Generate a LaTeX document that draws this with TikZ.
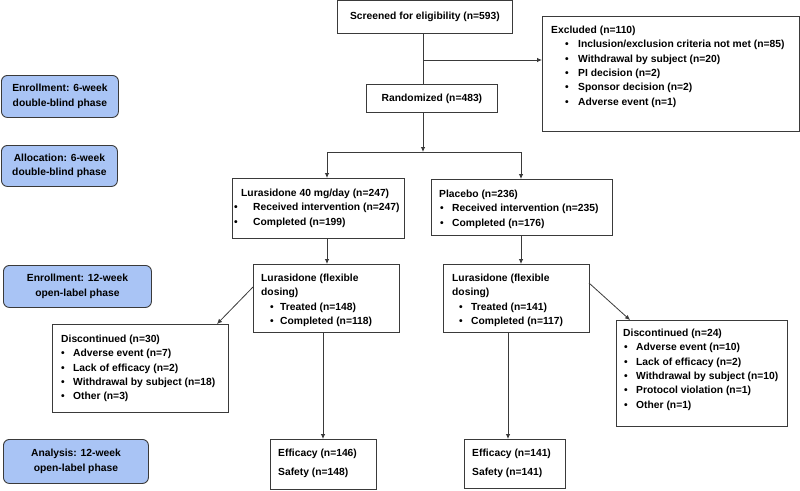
\documentclass[tikz,border=0pt]{standalone}
\usepackage{fontspec}
\setmainfont{Liberation Sans}
\usetikzlibrary{arrows.meta}
\definecolor{phase}{HTML}{A9C4F5}
\definecolor{edge}{HTML}{3A3A3A}
\newcommand{\bul}[3]{\hspace*{#1pt}\makebox[#2pt][l]{\textbullet}#3}
\tikzset{
  box/.style={draw=edge, line width=0.9pt, inner sep=0pt, anchor=north west},
  txt/.style={anchor=north west, inner sep=0pt, align=left, font=\fontsize{10.3}{14.3}\selectfont\bfseries},
  phasebox/.style={draw=edge, fill=phase, line width=0.9pt, rounded corners=6pt, inner sep=0pt, anchor=north west, align=center, font=\fontsize{10.3}{14.3}\selectfont\bfseries},
  arr/.style={draw=edge, line width=0.8pt, -{Latex[length=5pt,width=4.5pt]}},
  ln/.style={draw=edge, line width=0.8pt}
}
\begin{document}
\begin{tikzpicture}[x=1pt,y=-1pt]
\useasboundingbox (0,0) rectangle (800,490);
% phase boxes
\node[phasebox, minimum width=117pt, minimum height=42pt] (p1) at (1,75) {Enrollment: 6-week\\double-blind phase};
\node[phasebox, minimum width=116pt, minimum height=41pt] (p2) at (1,145) {Allocation: 6-week\\double-blind phase};
\node[phasebox, minimum width=148pt, minimum height=42pt] (p3) at (3,265) {Enrollment: 12-week\\open-label phase};
\node[phasebox, minimum width=145pt, minimum height=44pt] (p4) at (3,439) {Analysis: 12-week\\open-label phase};
% main boxes
\node[box, minimum width=175pt, minimum height=33pt] (screen) at (337,0) {};
\node[txt, anchor=center] (screent) at (screen.center) {Screened for eligibility (n=593)};
\node[box, minimum width=257pt, minimum height=115pt] (excl) at (542,16) {};
\node[txt] (exclt) at (551,26) {Excluded (n=110)\\
\bul{14}{13}{Inclusion/exclusion criteria not met (n=85)}\\
\bul{14}{13}{Withdrawal by subject (n=20)}\\
\bul{14}{13}{PI decision (n=2)}\\
\bul{14}{13}{Sponsor decision (n=2)}\\
\bul{14}{13}{Adverse event (n=1)}};
\node[box, minimum width=131pt, minimum height=28pt] (rand) at (366,84) {};
\node[txt, anchor=center] (randt) at (rand.center) {Randomized (n=483)};
\node[box, minimum width=172pt, minimum height=60pt] (lur) at (232,178) {};
\node[txt] (lurt) at (234,189) {\hspace*{7pt}Lurasidone 40 mg/day (n=247)\\
\bul{0}{19}{Received intervention (n=247)}\\
\bul{0}{19}{Completed (n=199)}};
\node[box, minimum width=181pt, minimum height=56pt] (plc) at (431,179) {};
\node[txt] (plct) at (439,190) {Placebo (n=236)\\
\bul{1}{12}{Received intervention (n=235)}\\
\bul{1}{12}{Completed (n=176)}};
\node[box, minimum width=146pt, minimum height=68pt] (flexA) at (253,264) {};
\node[txt] (flexAt) at (261,274) {Lurasidone (flexible\\dosing)\\
\bul{9}{10}{Treated (n=148)}\\
\bul{9}{10}{Completed (n=118)}};
\node[box, minimum width=146pt, minimum height=68pt] (flexB) at (443,264) {};
\node[txt] (flexBt) at (452,274) {Lurasidone (flexible\\dosing)\\
\bul{7}{12}{Treated (n=141)}\\
\bul{7}{12}{Completed (n=117)}};
\node[box, minimum width=176pt, minimum height=88pt] (discA) at (52,324) {};
\node[txt] (discAt) at (61,335) {Discontinued (n=30)\\
\bul{0}{12}{Adverse event (n=7)}\\
\bul{0}{12}{Lack of efficacy (n=2)}\\
\bul{0}{12}{Withdrawal by subject (n=18)}\\
\bul{0}{12}{Other (n=3)}};
\node[box, minimum width=171pt, minimum height=106pt] (discB) at (616,320) {};
\node[txt] (discBt) at (623,329) {Discontinued (n=24)\\
\bul{1}{12}{Adverse event (n=10)}\\
\bul{1}{12}{Lack of efficacy (n=2)}\\
\bul{1}{12}{Withdrawal by subject (n=10)}\\
\bul{1}{12}{Protocol violation (n=1)}\\
\bul{1}{12}{Other (n=1)}};
\node[box, minimum width=106pt, minimum height=50pt] (effA) at (270,439) {};
\node[txt, font=\fontsize{10.3}{19}\selectfont\bfseries] (effAt) at (278,449) {Efficacy (n=146)\\Safety (n=148)};
\node[box, minimum width=101pt, minimum height=49pt] (effB) at (464,439) {};
\node[txt, font=\fontsize{10.3}{19}\selectfont\bfseries] (effBt) at (472,449) {Efficacy (n=141)\\Safety (n=141)};
% connector coordinates
\coordinate (tee) at (423,60);
\coordinate (split) at (423,152);
\coordinate (sl) at (327,152);
\coordinate (sr) at (521,152);
\coordinate (xa) at (323,0);
\coordinate (xb) at (508,0);
\coordinate (da) at (253,287);
\coordinate (dae) at (217,324);
\coordinate (db) at (589,283);
\coordinate (dbe) at (630,320);
% connectors
\draw[ln] (screen.south -| tee) -- (rand.north -| tee);
\draw[arr] (tee) -- (tee -| excl.west);
\draw[arr] (rand.south -| split) -- (split);
\draw[ln] (sl) -- (sr);
\draw[arr] (sl) -- (sl |- lur.north);
\draw[arr] (sr) -- (sr |- plc.north);
\draw[arr] (lur.south -| sl) -- (flexA.north -| sl);
\draw[arr] (plc.south -| sr) -- (flexB.north -| sr);
\draw[arr] (da) -- (dae);
\draw[arr] (db) -- (dbe);
\draw[arr] (flexA.south -| xa) -- (effA.north -| xa);
\draw[arr] (flexB.south -| xb) -- (effB.north -| xb);
\end{tikzpicture}
\end{document}
